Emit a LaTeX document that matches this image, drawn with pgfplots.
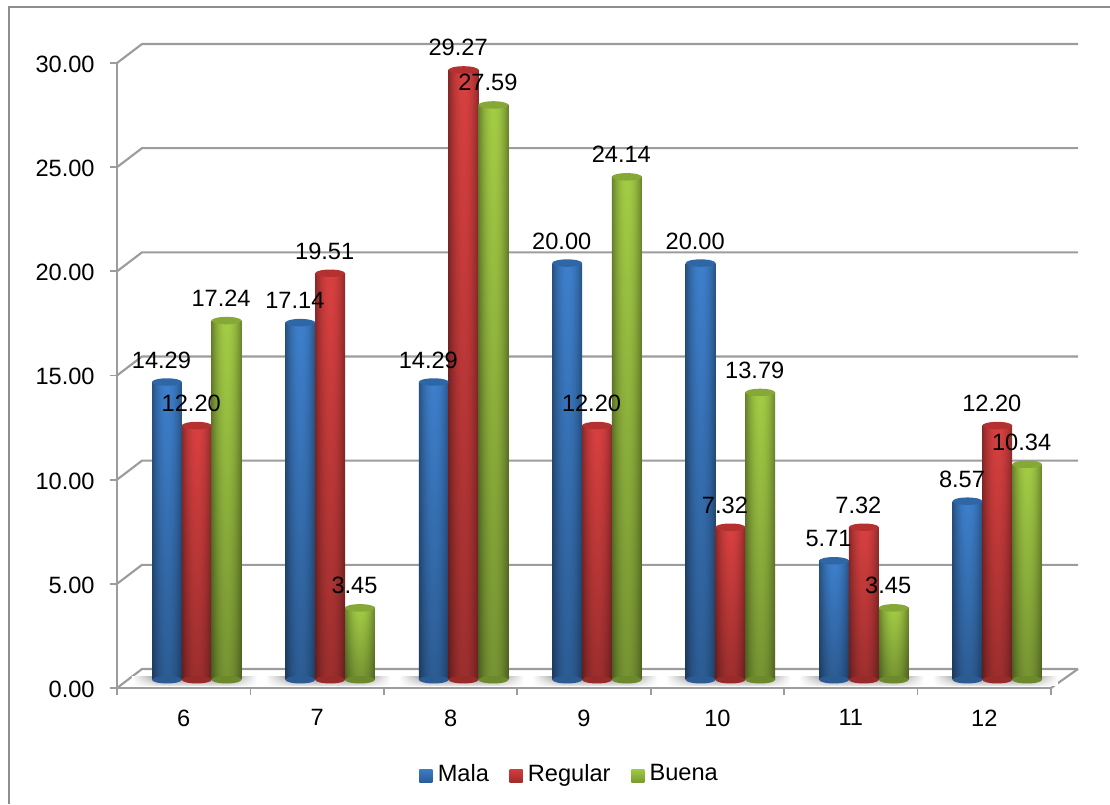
\documentclass[border=0pt]{standalone}
\usepackage{fontspec}
\setmainfont{Liberation Sans}
\usepackage{pgfplots}
\usepackage{pgfplotstable}
\pgfplotsset{compat=1.18}

\definecolor{gridgray}{HTML}{9C9C9C}
\definecolor{framegray}{HTML}{8E8E8E}
\definecolor{capblue}{HTML}{2F66A6}
\definecolor{capred}{HTML}{B53030}
\definecolor{capgreen}{HTML}{86A836}
\definecolor{botblue}{HTML}{2C5A92}
\definecolor{botred}{HTML}{982A2A}
\definecolor{botgreen}{HTML}{6C892C}
\definecolor{legblue}{HTML}{3B7BC8}
\definecolor{legbluedk}{HTML}{2A5C98}
\definecolor{legred}{HTML}{D63C3C}
\definecolor{legreddk}{HTML}{A02C2C}
\definecolor{leggreen}{HTML}{A0CB42}
\definecolor{leggreendk}{HTML}{789A32}

% cylinder body: darker at the sides and towards the bottom
\newcommand{\cylshading}[4]{%
  \pgfdeclarefunctionalshading{#1}{\pgfpoint{-50bp}{-50bp}}{\pgfpoint{50bp}{50bp}}{}{%
    50 div 0.5 add 0.28 mul 0.72 add
    exch 25 div abs dup mul 0.36 mul 1 exch sub
    mul
    dup #2 mul exch dup #3 mul exch #4 mul
  }}
\cylshading{cylblue}{0.24}{0.50}{0.80}
\cylshading{cylred}{0.85}{0.25}{0.25}
\cylshading{cylgreen}{0.64}{0.80}{0.27}

% floor shadow: grey under the bars, white towards the ends and the front
\pgfdeclarefunctionalshading{floorshade}{\pgfpoint{-50bp}{-50bp}}{\pgfpoint{50bp}{50bp}}{}{%
  50 div 0.5 add 0.42 mul
  exch 25 div abs 0.55 sub 0.45 div dup 0 lt {pop 0} if 1 exch sub
  mul 1 exch sub dup dup
}

\pgfdeclareplotmark{cylcap}{%
  \pgfpathellipse{\pgfpointorigin}{\pgfqpoint{11.2pt}{0pt}}{\pgfqpoint{0pt}{2.8pt}}%
  \pgfusepathqfill}

\pgfplotstableread{
x mala regular buena
0 14.29 12.20 17.24
1 17.14 19.51 3.45
2 14.29 29.27 27.59
3 20.00 12.20 24.14
4 20.00 7.32 13.79
5 5.71 7.32 3.45
6 8.57 12.20 10.34
}\datatable

\newcommand{\lbl}{\fontsize{17.7}{21}\selectfont}

\pgfplotsset{
  cyl/.style n args={3}{forget plot, ybar, bar width=22.35pt, bar shift=0pt, draw=none,
    shading=#1, xshift=#2, yshift=6.2pt,
    mark=cylcap, mark options={draw=none, fill=#3}},
  cylbase/.style n args={2}{forget plot, only marks, xshift=#1, yshift=6.2pt,
    mark=cylcap, mark options={draw=none, fill=#2}},
  vals/.style={forget plot, draw=none, mark=none, xshift=#1, yshift=7.1pt,
    nodes near coords, every node near coord/.append style={font=\lbl, anchor=center,
      xshift=-4.1pt, yshift=15.7pt, inner sep=0pt}},
  swatch/.style n args={2}{legend image code/.code={\shade[draw=none, top color=#1, bottom color=#2]
      (0pt,-6.4pt) rectangle (9.75pt,3.35pt);}},
}

\begin{document}
\begin{tikzpicture}
\useasboundingbox (-87.75pt,-87pt) rectangle (744.75pt,516pt);
\draw[framegray, line width=1.5pt] (-81pt,-87pt) -- (-81pt,510.75pt) -- (744.75pt,510.75pt);
\begin{axis}[
  at={(0pt,0pt)}, anchor=south west,
  scale only axis,
  width=700.5pt, height=468.75pt,
  xmin=-0.5, xmax=6.5,
  ymin=0, ymax=30,
  clip=false,
  axis x line*=bottom, axis y line*=left,
  axis line style={gridgray, line width=1.6pt, -},
  xtick={0,...,6},
  xticklabels={6,7,8,9,10,11,12},
  minor xtick={-0.5,0.5,...,6.5},
  ytick={0,5,...,30},
  tick align=outside,
  major tick length=5.25pt, minor tick length=5.25pt,
  major x tick style={draw=none},
  minor x tick style={gridgray, line width=1.3pt},
  major y tick style={gridgray, line width=1.3pt},
  tick label style={font=\lbl},
  xticklabel style={yshift=-7.5pt},
  yticklabel style={xshift=-8pt, yshift=-1pt},
  /pgf/number format/assume math mode=true,
  /pgf/number format/fixed, /pgf/number format/fixed zerofill, /pgf/number format/precision=2,
  legend style={at={(0.485,-0.137)}, anchor=center, draw=none, fill=none,
    font=\lbl, legend columns=3,
    /tikz/every even column/.append style={column sep=13.5pt},
    /tikz/every odd column/.append style={column sep=2pt}},
  legend cell align=left,
]
\addlegendimage{swatch={legblue}{legbluedk}}
\addlegendimage{swatch={legred}{legreddk}}
\addlegendimage{swatch={leggreen}{leggreendk}}
\legend{Mala,Regular,Buena}

% back wall grid
\pgfplotsinvokeforeach{0,5,...,30}{
  \draw[gridgray, line width=1.6pt] (axis cs:-0.5,#1) -- ++(18.75pt,14.25pt) -- ++(702pt,0pt);
}
\draw[gridgray, line width=1.6pt] (axis cs:6.5,0) -- ++(20.25pt,14.25pt);
% floor shadow under each group
\pgfplotsinvokeforeach{0,...,6}{
  \path[shading=floorshade]
    (axis cs:#1,0) ++(-38.8pt,2pt) rectangle ++(93.8pt,6.6pt);
}

\addplot[cylbase={-12.6pt}{botblue}] table[x=x, y expr=0] {\datatable};
\addplot[cylbase={9.75pt}{botred}] table[x=x, y expr=0] {\datatable};
\addplot[cylbase={32.1pt}{botgreen}] table[x=x, y expr=0] {\datatable};

% one plot per bar so that each cylinder gets its own shading
\pgfplotsinvokeforeach{0,...,6}{
  \addplot[cyl={cylblue}{-12.6pt}{capblue}, restrict x to domain=#1:#1] table[x=x, y=mala] {\datatable};
  \addplot[cyl={cylred}{9.75pt}{capred}, restrict x to domain=#1:#1] table[x=x, y=regular] {\datatable};
  \addplot[cyl={cylgreen}{32.1pt}{capgreen}, restrict x to domain=#1:#1] table[x=x, y=buena] {\datatable};
}

\addplot[vals=-12.6pt] table[x=x, y=mala] {\datatable};
\addplot[vals=9.75pt] table[x=x, y=regular] {\datatable};
\addplot[vals=32.1pt] table[x=x, y=buena] {\datatable};
\end{axis}
\end{tikzpicture}
\end{document}
